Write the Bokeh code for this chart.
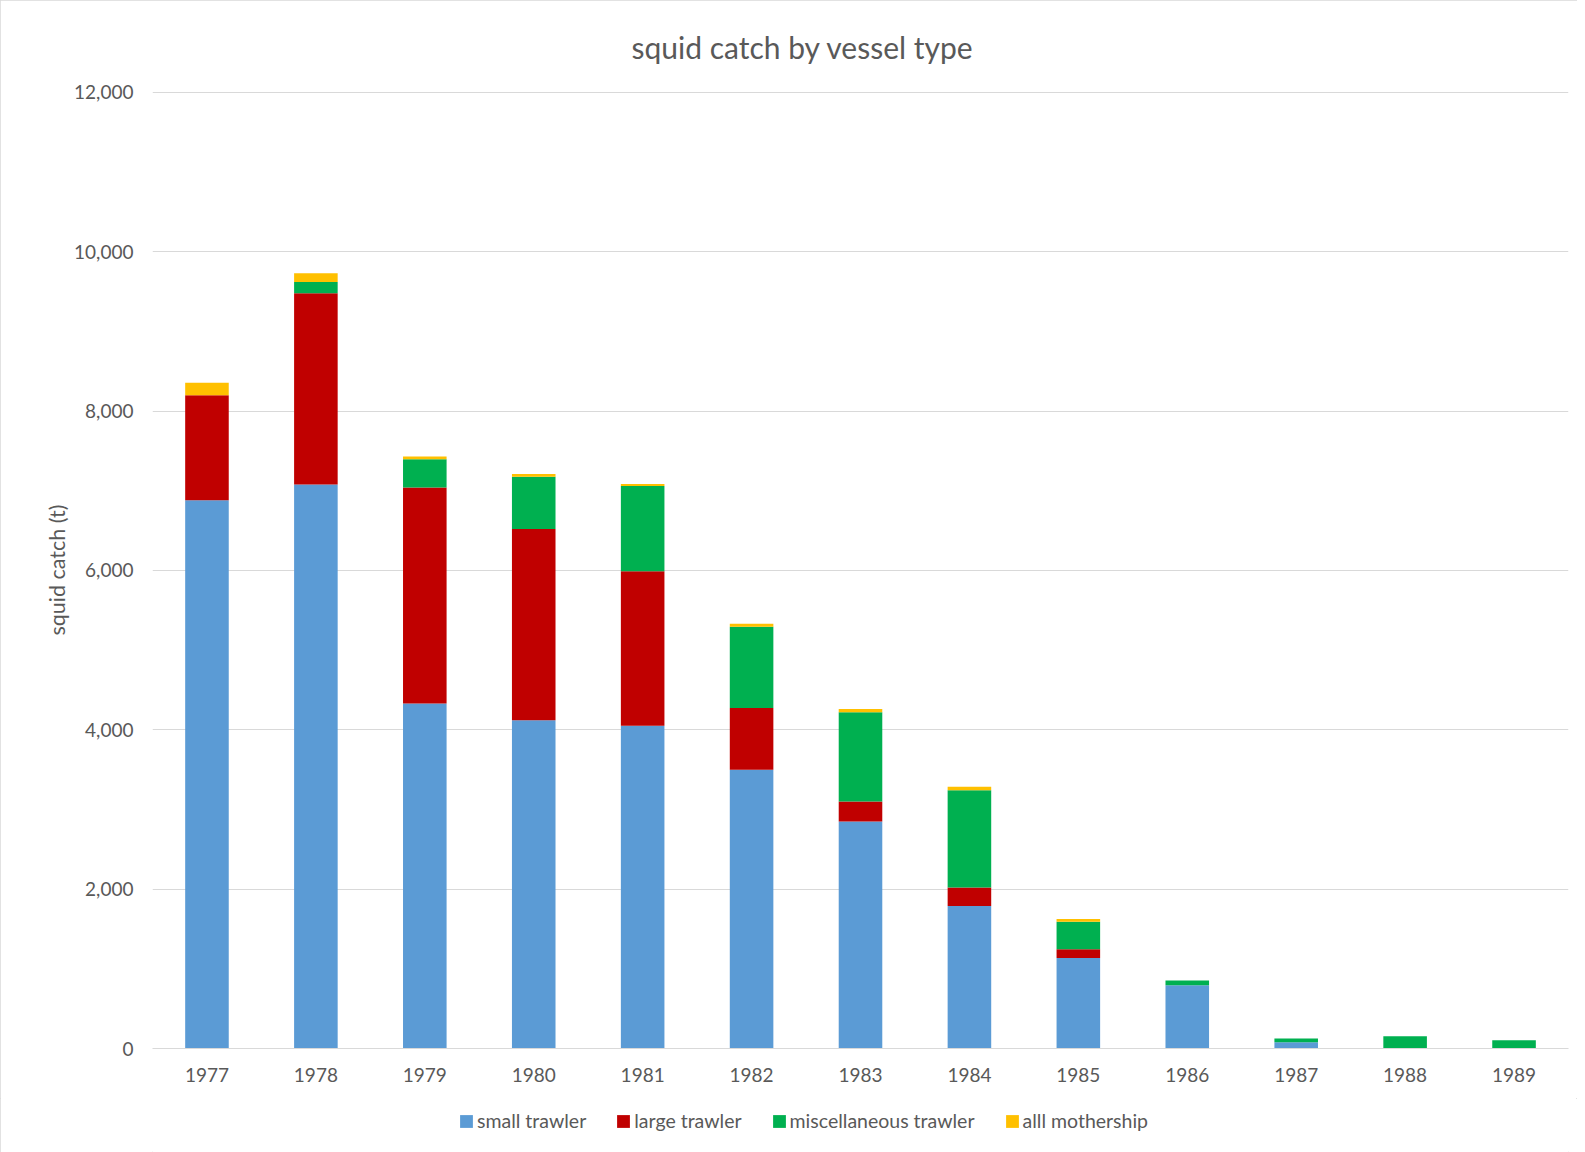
from bokeh.plotting import figure
from bokeh.layouts import column
from bokeh.models import ColumnDataSource, Legend, LegendItem, NumeralTickFormatter, FixedTicker
from bokeh.embed import file_html
from bokeh.resources import INLINE

years = ["1977", "1978", "1979", "1980", "1981", "1982", "1983",
         "1984", "1985", "1986", "1987", "1988", "1989"]
small_trawler = [6880, 7080, 4330, 4120, 4050, 3500, 2850, 1790, 1135, 795, 80, 0, 0]
large_trawler = [1320, 2400, 2710, 2400, 1940, 775, 250, 230, 110, 0, 0, 0, 0]
misc_trawler = [0, 140, 355, 655, 1070, 1020, 1120, 1220, 345, 60, 45, 155, 105]
all_mothership = [155, 110, 35, 35, 25, 35, 40, 45, 35, 0, 0, 0, 0]
series_names = ["small trawler", "large trawler", "miscellaneous trawler", "alll mothership"]
series_keys = ["small", "large", "misc", "moth"]
colors = ["#5B9BD5", "#C00000", "#00B050", "#FFC000"]
y_ticks = [0, 2000, 4000, 6000, 8000, 10000, 12000]

source = ColumnDataSource(dict(years=years, small=small_trawler, large=large_trawler,
                               misc=misc_trawler, moth=all_mothership))

FONT = "Lato"
TXT = "#595959"

p = figure(x_range=years, y_range=(0, 12012),
           frame_width=1416, frame_height=957,
           min_border_left=152, min_border_top=80, min_border_right=9, min_border_bottom=50,
           output_backend="svg", toolbar_location=None,
           title="squid catch by vessel type")

renderers = p.vbar_stack(series_keys, x="years", width=0.4, color=colors,
                         source=source, line_width=0)

p.title.text_font = FONT
p.title.text_font_size = "30px"
p.title.text_font_style = "normal"
p.title.text_color = TXT
p.title.align = "left"
p.title.offset = 479
p.title.standoff = 53

p.outline_line_color = None
p.xgrid.grid_line_color = None
p.ygrid.grid_line_color = "#d9d9d9"
p.ygrid.grid_line_width = 1

p.yaxis.ticker = FixedTicker(ticks=y_ticks)
p.yaxis.formatter = NumeralTickFormatter(format="0,0")
p.yaxis.axis_line_color = None
p.yaxis.major_tick_line_color = None
p.yaxis.minor_tick_line_color = None
p.yaxis.major_tick_out = 0
p.yaxis.major_tick_in = 0
p.yaxis.major_label_standoff = 19
p.yaxis.axis_label = "squid catch (t)"
p.yaxis.axis_label_standoff = 1
p.yaxis.axis_label_text_font = FONT
p.yaxis.axis_label_text_font_size = "21.5px"
p.yaxis.axis_label_text_font_style = "normal"
p.yaxis.axis_label_text_color = TXT

p.xaxis.axis_line_color = "#d9d9d9"
p.xaxis.major_tick_line_color = None
p.xaxis.minor_tick_line_color = None
p.xaxis.major_tick_out = 0
p.xaxis.major_tick_in = 0
p.xaxis.major_label_standoff = 19

for ax in (p.xaxis, p.yaxis):
    ax.major_label_text_font = FONT
    ax.major_label_text_font_size = "19px"
    ax.major_label_text_color = TXT

# legend strip below the chart (its own bars fall far outside its visible range)
lg = figure(width=1577, height=54, x_range=years, y_range=(20000, 20001),
            min_border_left=0, min_border_right=0, min_border_top=0, min_border_bottom=0,
            x_axis_type=None, y_axis_type=None,
            output_backend="svg", toolbar_location=None)
lg.outline_line_color = None
lg.xgrid.visible = False
lg.ygrid.visible = False
swatches = lg.vbar_stack(series_keys, x="years", width=0.4, color=colors,
                         source=source, line_width=0)
items = [LegendItem(label=n, renderers=[r]) for n, r in zip(series_names, swatches)]
legend = Legend(items=items, orientation="horizontal", location=(306, 20),
                padding=0, margin=0, spacing=29, glyph_width=16, glyph_height=16,
                label_standoff=3, label_text_font=FONT, label_text_font_size="19.5px",
                label_text_color=TXT, border_line_color=None, background_fill_alpha=0)
lg.add_layout(legend, "center")

layout = column(p, lg, spacing=0)
layout.styles = {"outline": "1px solid #d9d9d9", "outline-offset": "-1px"}

open("out.html", "w").write(file_html(layout, INLINE))
